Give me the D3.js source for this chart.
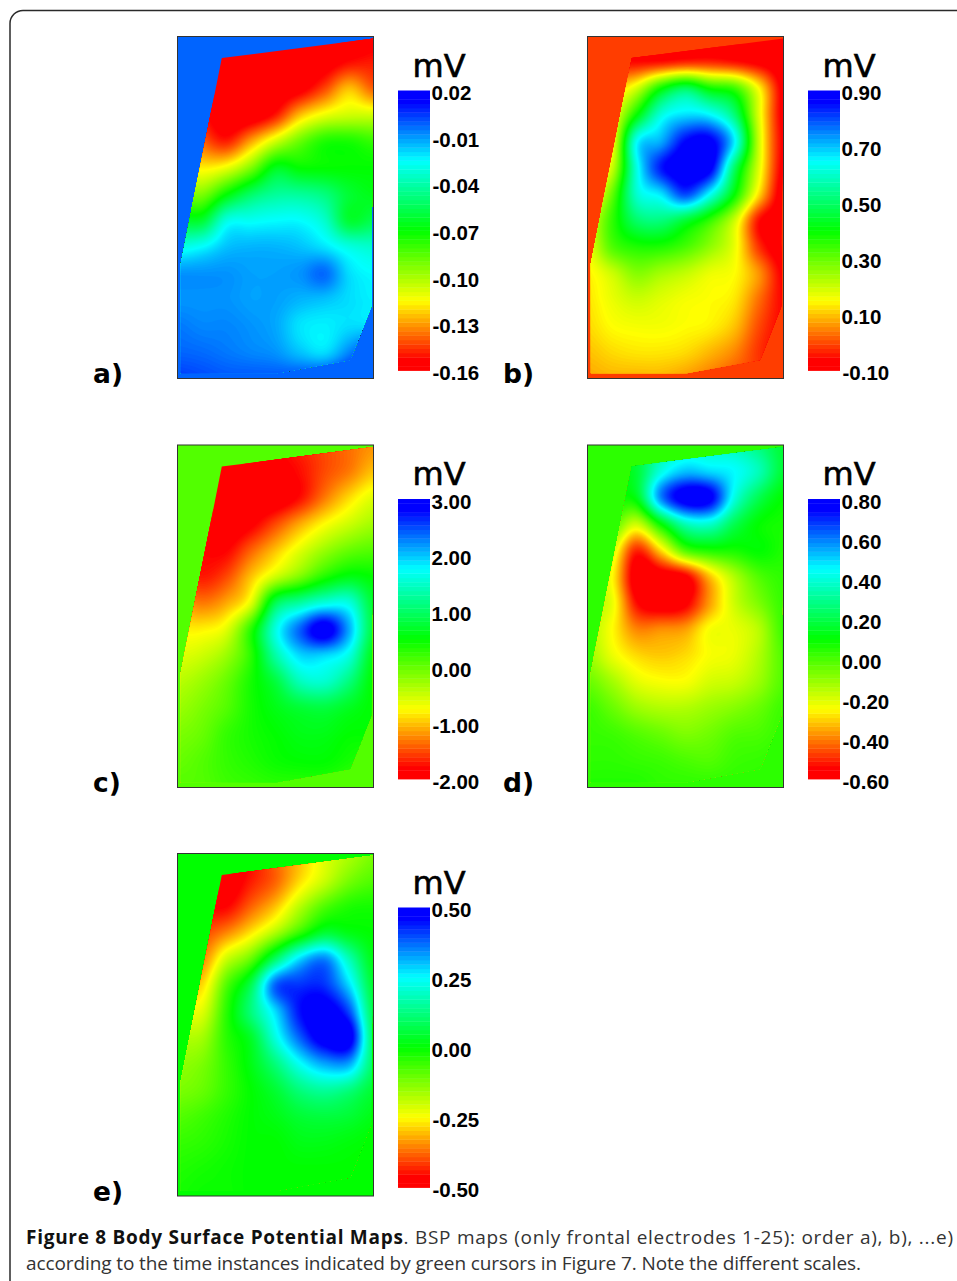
<!DOCTYPE html>
<html><head><meta charset="utf-8">
<style>html,body{margin:0;padding:0;background:#fff;overflow:hidden}svg{display:block}</style>
<script src="https://cdn.jsdelivr.net/npm/d3@7"></script>
</head><body>
<svg id="chart" width="957" height="1281"></svg>
<script>
// Potential grids in mV: 14 rows (top to bottom) x 9 columns (left to right).
const valuesA = [
[-.160,-.160,-.160,-.160,-.160,-.160,-.160,-.160,-.156],
[-.160,-.160,-.160,-.160,-.160,-.160,-.158,-.151,-.149],
[-.160,-.160,-.160,-.160,-.160,-.156,-.142,-.124,-.138],
[-.142,-.151,-.160,-.160,-.149,-.124,-.111,-.106,-.106],
[-.124,-.138,-.148,-.128,-.106,-.088,-.075,-.074,-.079],
[-.110,-.117,-.111,-.092,-.065,-.070,-.070,-.070,-.070],
[-.088,-.092,-.070,-.052,-.043,-.043,-.048,-.061,-.066],
[-.061,-.061,-.030,-.027,-.025,-.025,-.034,-.061,-.056],
[-.030,-.025,-.016,-.014,-.014,-.016,-.021,-.030,-.034],
[-.009,-.009,-.009,-.011,-.011,-.009,-.003,-.020,-.025],
[-.009,-.009,-.009,-.011,-.011,-.014,-.016,-.020,-.023],
[-.005,-.007,-.007,-.009,-.012,-.021,-.023,-.020,-.020],
[-.002,-.003,-.005,-.007,-.009,-.016,-.020,-.007, .006],
[ .004, .002, .000, .000, .000, .002, .006, .011, .011]];
const valuesB = [
[-.10,-.10,-.10,-.10,-.10,-.10,-.10,-.10,-.10],
[-.05,-.05,-.05,-.04,-.02,-.02,-.04,-.07,-.10],
[ .10, .10, .20, .40, .50, .40, .35, .15,-.08],
[ .10, .15, .40, .62, .68, .66, .52, .18,-.08],
[ .10, .15, .64, .72, .86, .88, .66, .20,-.07],
[ .10, .20, .62, .84, .90, .88, .50, .18,-.08],
[ .10, .30, .60, .67, .80, .64, .40, .12,-.10],
[ .18, .35, .50, .52, .45, .35, .20,-.05,-.10],
[ .17, .32, .37, .37, .33, .26, .17,-.02,-.10],
[ .14, .20, .27, .24, .21, .17, .15, .06,-.07],
[ .13, .17, .20, .18, .16, .15, .13, .03,-.06],
[ .12, .15, .16, .16, .15, .14, .10, .00,-.06],
[ .10, .12, .13, .13, .12, .09, .05,-.02,-.06],
[ .08, .09, .09, .09, .07, .04, .01,-.01,-.03]];
const valuesC = [
[-2,-2,-2,-1.9,-1.8,-1.65,-1.5,-1.35,-1.2],
[-2,-2,-2,-2,-1.9,-1.75,-1.5,-1.3,-1],
[-2,-2,-2,-2,-2,-1.75,-1.3,-.9,-.6],
[-1.9,-1.9,-2,-1.85,-1.5,-1.1,-.75,-.5,-.3],
[-1.75,-1.8,-1.8,-1.4,-1,-.6,-.25,0,.1],
[-1.5,-1.7,-1.5,-1,-.5,-.1,.35,.6,.5],
[-1.1,-1.3,-1.1,-.6,.9,1.3,1.6,1.6,.75],
[-.8,-.8,-.6,.3,1.6,2.4,3,2.1,.8],
[-.6,-.5,-.25,.3,1.3,1.9,1.9,1.6,.6],
[-.4,-.25,0,.4,.8,1.4,1.5,1.1,.5],
[-.25,-.1,.1,.4,.6,.75,.8,.65,.5],
[-.1,0,.25,.4,.5,.6,.6,.5,.5],
[0,.1,.25,.35,.45,.5,.5,.4,.3],
[.1,.1,.2,.25,.3,.3,.3,.2,.1]];
const valuesD = [
[ .10, .10, .17, .31, .38, .38, .35, .27, .17],
[ .10, .10, .17, .41, .52, .49, .45, .35, .17],
[ .10, .10, .13, .59, .80, .77, .41, .21, .10],
[-.04,-.01,-.18, .10, .35, .38, .21, .10, .07],
[-.04,-.18,-.50,-.29,-.01, .06, .07, .10, .06],
[-.11,-.25,-.60,-.60,-.56,-.32,-.14,-.01, .04],
[-.14,-.22,-.53,-.60,-.56,-.36,-.18,-.07, .03],
[-.14,-.25,-.39,-.38,-.36,-.24,-.22,-.15, .02],
[-.11,-.22,-.29,-.31,-.29,-.24,-.22,-.14,-.01],
[-.04,-.12,-.21,-.24,-.24,-.19,-.17,-.11,-.01],
[ .02,-.04,-.11,-.14,-.14,-.11,-.08,-.04, .02],
[ .03, .02,-.01,-.04,-.07,-.05,-.01, 0, .03],
[ .04, .04, .03, .02, 0,-.01, .02, .03, .04],
[ .06, .06, .06, .04, .04, .04, .04, .04, .04]];
const valuesE = [
[-.50,-.50,-.50,-.45,-.37,-.30,-.22,-.17,-.12],
[-.50,-.50,-.50,-.44,-.38,-.28,-.20,-.12,-.08],
[-.45,-.46,-.46,-.38,-.30,-.18,-.08,-.03,-.02],
[-.38,-.40,-.35,-.27,-.17,-.05, .05, .02, .00],
[-.32,-.35,-.20,-.10, .10, .28, .35, .18, .02],
[-.28,-.28,-.08, .08, .38, .42, .42, .28, .05],
[-.22,-.22,-.04, .12, .28, .45, .50, .40, .08],
[-.17,-.16,-.04, .04, .22, .38, .50, .50, .10],
[-.14,-.12,-.05, .02, .12, .24, .32, .32, .10],
[-.12,-.10,-.05, .00, .05, .12, .15, .12, .05],
[-.08,-.06,-.03, .00, .02, .05, .06, .05, .02],
[-.05,-.04,-.02, .00, .00, .02, .02, .01, .00],
[-.03,-.02,-.01, .00, .00, .00, .00, .00, .00],
[-.02,-.01,-.01, .00, .00, .00, .00, .00, .00]];

const ticksA = [0.02,-0.01,-0.04,-0.07,-0.10,-0.13,-0.16];
const ticksB = [0.90,0.70,0.50,0.30,0.10,-0.10];
const ticksC = [3,2,1,0,-1,-2];
const ticksD = [0.80,0.60,0.40,0.20,0,-0.20,-0.40,-0.60];
const ticksE = [0.50,0.25,0,-0.25,-0.50];
const outsideA = -0.002, outsideB = -0.01, outsideC = 0.10, outsideD = 0.04, outsideE = 0;
const panelNames = ["a)","b)","c)","d)","e)"];
const unitLabel = "mV";
const captionBold = "Figure 8 Body Surface Potential Maps";
const captionRest = ". BSP maps (only frontal electrodes 1-25): order a), b), ...e)";
const captionLine2 = "according to the time instances indicated by green cursors in Figure 7. Note the different scales.";
// torso outline on the unit square of the map
const outlineX = [.226,1,.988,.881,.507,.017,.017];
const outlineY = [.063,.006,.791,.946,.985,.985,.664];

const panels = [
 {grid:valuesA,ticks:ticksA,out:outsideA,name:panelNames[0],x:177.5,y:36.5,h:342},
 {grid:valuesB,ticks:ticksB,out:outsideB,name:panelNames[1],x:587.5,y:36.5,h:342},
 {grid:valuesC,ticks:ticksC,out:outsideC,name:panelNames[2],x:177.5,y:445,h:342.5},
 {grid:valuesD,ticks:ticksD,out:outsideD,name:panelNames[3],x:587.5,y:445,h:342.5},
 {grid:valuesE,ticks:ticksE,out:outsideE,name:panelNames[4],x:177.5,y:853.5,h:342.5}
];
const W = 196, barW = 32, barH = 280, barGap = 220.5, barTop = 54;
const STEP = 2, PAD = 4, LEVELS = 200, BANDS = 64;

const svg = d3.select("#chart");
svg.append("rect").attr("x",10).attr("y",10.5).attr("width",1000).attr("height",1330).attr("rx",13)
   .attr("fill","#fff").attr("stroke","#2a2a2a").attr("stroke-width",1.5);

const cr = (a,b,c,d,t)=>0.5*(2*b+(c-a)*t+(2*a-5*b+4*c-d)*t*t+(3*b-a-3*c+d)*t*t*t);
function sample(grid,u,v){
  const R=grid.length-1,C=grid[0].length-1;
  const fy=Math.max(0,Math.min(R-1e-6,v*R)), fx=Math.max(0,Math.min(C-1e-6,u*C));
  const r=Math.floor(fy), c=Math.floor(fx), ty=fy-r, tx=fx-c;
  const g=(i,j)=>grid[Math.max(0,Math.min(R,i))][Math.max(0,Math.min(C,j))];
  const row=i=>cr(g(i,c-1),g(i,c),g(i,c+1),g(i,c+2),tx);
  return cr(row(r-1),row(r),row(r+1),row(r+2),ty);
}

panels.forEach((p,idx)=>{
  const lo=d3.min(p.ticks), hi=d3.max(p.ticks);
  const colour=d3.scaleLinear()
    .domain([0,.04,.25,.5,.75,.96,1].map(t=>lo+t*(hi-lo)))
    .range(["#ff0000","#ff0000","#ffff00","#00ff00","#00ffff","#0000ff","#0000ff"]).clamp(true);
  const g=svg.append("g");
  const u=d3.scaleLinear().domain([0,1]).range([p.x,p.x+W]);
  const v=d3.scaleLinear().domain([0,1]).range([p.y,p.y+p.h]);

  g.append("rect").attr("x",p.x).attr("y",p.y).attr("width",W).attr("height",p.h).attr("fill",colour(p.out));
  const clipId="torso"+idx;
  g.append("clipPath").attr("id",clipId).append("path")
    .attr("d",d3.line().x(d=>u(outlineX[d])).y(d=>v(outlineY[d])).curve(d3.curveLinearClosed)(d3.range(outlineX.length)));

  // resample the grid and contour it into nested colour levels
  const nx=Math.ceil(W/STEP)+1+2*PAD, ny=Math.ceil(p.h/STEP)+1+2*PAD;
  const field=new Float64Array(nx*ny);
  for(let j=0;j<ny;j++)for(let i=0;i<nx;i++){
    field[j*nx+i]=sample(p.grid,(i-PAD)*STEP/W,(j-PAD)*STEP/p.h);
  }
  const thresholds=d3.range(LEVELS).map(k=>lo+(k+.5)*(hi-lo)/LEVELS);
  const cx=d3.scaleLinear().domain([PAD+.5,PAD+.5+W/STEP]).range([p.x,p.x+W]);
  const cy=d3.scaleLinear().domain([PAD+.5,PAD+.5+p.h/STEP]).range([p.y,p.y+p.h]);
  const proj=d3.geoTransform({point(x,y){this.stream.point(cx(x),cy(y));}});
  const path=d3.geoPath(proj);
  const map=g.append("g").attr("clip-path",`url(#${clipId})`);
  map.append("rect").attr("x",p.x).attr("y",p.y).attr("width",W).attr("height",p.h).attr("fill",colour(lo));
  map.selectAll("path").data(d3.contours().size([nx,ny]).smooth(true).thresholds(thresholds)(field))
    .join("path").attr("d",path).attr("fill",d=>colour(d.value+(hi-lo)/LEVELS/2));
  g.append("rect").attr("x",p.x).attr("y",p.y).attr("width",W).attr("height",p.h)
    .attr("fill","none").attr("stroke","#333").attr("stroke-width",1);

  // colour bar
  const barX=p.x+barGap, top=p.y+barTop, bottom=top+barH;
  const barY=d3.scaleLinear().domain([lo,hi]).range([bottom,top]);
  g.append("g").selectAll("rect").data(d3.range(BANDS)).join("rect")
    .attr("x",barX).attr("width",barW)
    .attr("y",k=>barY(lo+(k+1)*(hi-lo)/BANDS)).attr("height",barH/BANDS+.4)
    .attr("fill",k=>colour(lo+(k+.5)*(hi-lo)/BANDS));

  const axis=d3.axisRight(barY).tickValues(p.ticks).tickSize(0).tickPadding(0)
    .tickFormat(d=>d.toFixed(2));
  const ag=g.append("g").attr("transform",`translate(${barX+barW+1.5},2.5)`).call(axis);
  ag.select(".domain").remove();
  ag.selectAll("text").attr("fill","#000").attr("x",d=>d<0?1:0)
    .style("font","bold 20.5px 'Liberation Sans',Arial,sans-serif");

  g.append("text").attr("x",barX+41).attr("y",p.y+40).attr("text-anchor","middle")
    .style("font","32px 'DejaVu Sans',sans-serif").attr("stroke","#000").attr("stroke-width",.6).text(unitLabel);
  g.append("text").attr("x",idx%2?503:93).attr("y",p.y+p.h+4.5)
    .style("font","bold 26.5px 'DejaVu Sans',sans-serif").text(p.name);
});

const capFont="'Open Sans',sans-serif";
const cap=svg.append("text").attr("x",26).attr("y",1244).style("font",`19px ${capFont}`).attr("fill","#222");
cap.append("tspan").style("font-weight","700").attr("fill","#111").text(captionBold);
cap.append("tspan").attr("fill","#333").text(captionRest);
cap.attr("textLength",927).attr("lengthAdjust","spacing");
svg.append("text").attr("x",26).attr("y",1270).style("font",`19px ${capFont}`).attr("fill","#333")
  .attr("textLength",835).attr("lengthAdjust","spacing").text(captionLine2);
</script>
</body></html>
